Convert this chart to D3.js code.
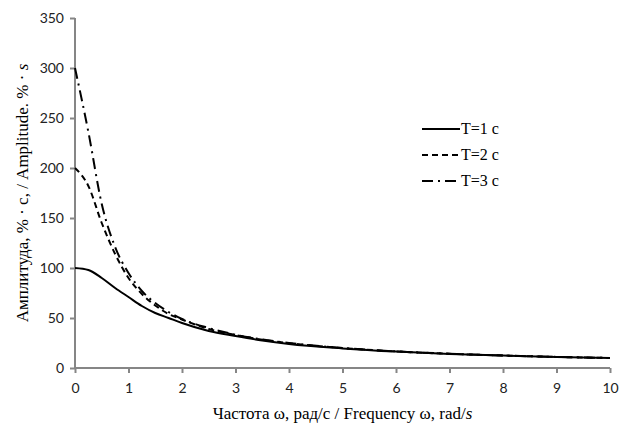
<!DOCTYPE html>
<html>
<head>
<meta charset="utf-8">
<script src="https://cdn.jsdelivr.net/npm/d3@7"></script>
<style>
  body { margin: 0; background: #fff; }
  svg { display: block; }
  .tick text { font-family: Lato, "Open Sans", sans-serif; font-size: 14px; fill: #222; }
  .title, .leg { font-family: "Liberation Serif", "DejaVu Serif", serif; fill: #000; }
</style>
</head>
<body>
<svg id="chart" width="619" height="425"></svg>
<script>
// frequency, rad/s
const omega = [0, 0.25, 0.5, 0.75, 1, 1.25, 1.5, 1.75, 2, 2.5, 3, 3.5, 4, 5, 6, 7, 8, 9, 10];
// amplitude for each time constant
const ampT1 = [100, 98, 90, 80, 71, 62, 55, 50, 45, 37, 32, 27.5, 24, 19.6, 16.4, 14.1, 12.4, 11, 10];
const ampT2 = [200, 182, 145, 114, 90, 74, 62.5, 54, 48.5, 39, 33, 28.3, 24.8, 19.9, 16.6, 14.2, 12.5, 11.1, 10];
const ampT3 = [300, 236, 164, 121, 95, 77, 65, 56, 49, 40, 33.3, 28.6, 25, 20, 16.6, 14.3, 12.5, 11.1, 10];
const seriesNames = ["T=1 c", "T=2 c", "T=3 c"];
const xTicks = [0, 1, 2, 3, 4, 5, 6, 7, 8, 9, 10];
const yTicks = [0, 50, 100, 150, 200, 250, 300, 350];

const svg = d3.select("#chart");
const padL = 75, padR = 610, padT = 18, padB = 368;

const x = d3.scaleLinear().domain([0, 10]).range([padL, padR]);
const y = d3.scaleLinear().domain([0, 350]).range([padB, padT]);

const xAxis = svg.append("g").attr("transform", `translate(0,${padB})`)
  .call(d3.axisBottom(x).tickValues(xTicks).tickSize(5).tickPadding(10));
const yAxis = svg.append("g").attr("transform", `translate(${padL},0)`)
  .call(d3.axisLeft(y).tickValues(yTicks).tickSize(5).tickPadding(6));
[xAxis, yAxis].forEach(a => {
  a.selectAll("path, line").attr("stroke", "#868686").attr("stroke-width", 2);
});
xAxis.select(".domain").attr("d", `M${padL},0H${padR}`);
yAxis.select(".domain").attr("d", `M0,${padB}V${padT}`);

const dashes = [null, "6,4", "11,5,2,5"];
const series = [ampT1, ampT2, ampT3];

const line = d3.line()
  .x((d, i) => x(omega[i]))
  .y(d => y(d))
  .curve(d3.curveMonotoneX);

series.forEach((s, k) => {
  svg.append("path")
    .datum(s)
    .attr("d", line)
    .attr("fill", "none")
    .attr("stroke", "#000")
    .attr("stroke-width", 2)
    .attr("stroke-dasharray", dashes[k]);
});

// legend
const legY = [129, 155, 181];
seriesNames.forEach((n, k) => {
  svg.append("line")
    .attr("x1", 422).attr("x2", 460)
    .attr("y1", legY[k]).attr("y2", legY[k])
    .attr("stroke", "#000").attr("stroke-width", 2)
    .attr("stroke-dasharray", dashes[k]);
  svg.append("text").attr("class", "leg")
    .attr("x", 461).attr("y", legY[k] + 5)
    .attr("font-size", 16)
    .text(n);
});

const xt = svg.append("text").attr("class", "title")
  .attr("x", (padL + padR) / 2).attr("y", 419)
  .attr("text-anchor", "middle").attr("font-size", 17);
xt.append("tspan").text("Частота ω, рад/с  / Frequency ω, rad/");
xt.append("tspan").attr("font-style", "italic").text("s");

const yt = svg.append("text").attr("class", "title")
  .attr("transform", `translate(28,${(padT + padB) / 2}) rotate(-90)`)
  .attr("text-anchor", "middle").attr("font-size", 17);
yt.append("tspan").text("Амплитуда, % · с, / Amplitude. % · ");
yt.append("tspan").attr("font-style", "italic").text("s");
</script>
</body>
</html>
